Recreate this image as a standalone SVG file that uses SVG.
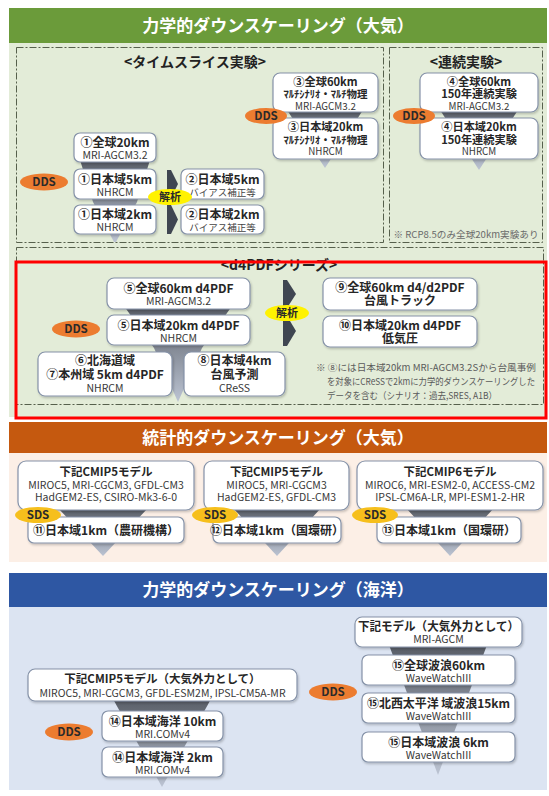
<svg xmlns="http://www.w3.org/2000/svg" width="549" height="796" viewBox="0 0 549 796">
<defs>
<style>
text{font-family:"Noto Sans CJK JP","Noto Sans",sans-serif;text-anchor:middle}
.hd{font-size:17px;font-weight:700;fill:#fff}
.st{font-size:14px;font-weight:700;fill:#222}
.box{fill:#fff;stroke:#8592a8;stroke-width:1.2;filter:url(#sh)}
.b{font-size:12px;font-weight:700;fill:#262626}
.b3{font-size:11.2px;font-weight:700;fill:#262626}
.s{font-size:10.5px;fill:#383838}
.s3{font-size:9.8px;fill:#383838}
.xs{font-size:9.5px;fill:#444}
.note{font-size:9.5px;fill:#5a5a5a;text-anchor:start}
.frame{fill:none;stroke:#56604c;stroke-width:1;stroke-dasharray:7 2 2 2}
.dds{fill:#ec7c30}
.sds{fill:#f6bf1c}
.ana{fill:#fff200}
.lt{font-size:11.5px;font-weight:700;fill:#2a2a2a}
.fun{fill:url(#fg)}
.chev{fill:#3f4651}
</style>
<linearGradient id="fg" x1="0" y1="0" x2="0" y2="1">
<stop offset="0" stop-color="#585d66"/>
<stop offset="1" stop-color="#bcc4d3"/>
</linearGradient>
<filter id="sh" x="-10%" y="-10%" width="120%" height="130%">
<feDropShadow dx="1" dy="1.5" stdDeviation="1" flood-color="#000" flood-opacity="0.22"/>
</filter>
</defs>

<!-- backgrounds -->
<rect x="9" y="8" width="538" height="35" fill="#6b9b3a"/>
<rect x="9" y="43" width="538" height="374" fill="#e3ecd8"/>
<text class="hd" x="278" y="31.5">力学的ダウンスケーリング（大気）</text>
<rect x="9" y="422" width="538" height="31" fill="#c5590f"/>
<rect x="9" y="453" width="538" height="109" fill="#fcefe6"/>
<text class="hd" x="278" y="443.5">統計的ダウンスケーリング（大気）</text>
<rect x="9" y="573" width="538" height="34" fill="#2e57a3"/>
<rect x="9" y="607" width="538" height="183" fill="#dce4f2"/>
<text class="hd" x="278" y="596">力学的ダウンスケーリング（海洋）</text>

<!-- frames -->
<rect class="frame" x="16.5" y="47.5" width="367" height="195"/>
<rect class="frame" x="389.5" y="47.5" width="153" height="195"/>
<rect class="frame" x="16.5" y="247.5" width="527" height="157"/>
<text class="st" x="195" y="67">&lt;タイムスライス実験&gt;</text>
<text class="st" x="466" y="67">&lt;連続実験&gt;</text>
<text class="st" x="279" y="270">&lt;d4PDFシリーズ&gt;</text>

<!-- connectors -->
<g id="connectors">
<polygon class="fun" points="80,160 150,160 137,202 116,242 114,242 93,202"/>
<polygon class="fun" points="287,110 363,110 325,168"/>
<polygon class="fun" points="440,110 518,110 479,170"/>
<polygon class="fun" points="124,306 232,306 202,348 178,402 154,348"/>
<polygon class="fun" points="58,508 148,508 103,556"/>
<polygon class="fun" points="233,508 321,508 277,556"/>
<polygon class="fun" points="406,508 494,508 450,556"/>
<polygon class="fun" points="389,645 487,645 438,775"/>
<polygon class="fun" points="113,699 211,699 162,787"/>
<polygon class="chev" points="167,170 171,170 178,184 171,198 167,198"/>
<polygon class="chev" points="167,205 171,205 178,219.5 171,234 167,234"/>
<polygon class="chev" points="283,280 287,280 296,294 287,308 283,308"/>
<polygon class="chev" points="283,316 287,316 296,331 287,346 283,346"/>
</g>

<!-- time slice nodes -->
<g id="n1a"><rect class="box" x="74" y="133" width="82" height="29" rx="6"/>
<text class="b" x="115" y="147">①全球20km</text><text class="s" x="115" y="159">MRI-AGCM3.2</text></g>
<g id="n1b"><rect class="box" x="74" y="169" width="82" height="30" rx="6"/>
<text class="b" x="115" y="184">①日本域5km</text><text class="s" x="115" y="196">NHRCM</text></g>
<g id="n1c"><rect class="box" x="74" y="205" width="82" height="29" rx="6"/>
<text class="b" x="115" y="219">①日本域2km</text><text class="s" x="115" y="231">NHRCM</text></g>
<g id="n2a"><rect class="box" x="181" y="169" width="83" height="30" rx="6"/>
<text class="b" x="222.5" y="184">②日本域5km</text><text class="xs" x="222.5" y="195.5">バイアス補正等</text></g>
<g id="n2b"><rect class="box" x="181" y="205" width="83" height="29" rx="6"/>
<text class="b" x="222.5" y="219">②日本域2km</text><text class="xs" x="222.5" y="230.5">バイアス補正等</text></g>
<g id="n3a"><rect class="box" x="273" y="73" width="105" height="39" rx="7"/>
<text class="b3" x="325.5" y="85.5">③全球60km</text><text class="b3" x="325.5" y="98" style="font-size:10.5px">ﾏﾙﾁｼﾅﾘｵ・ﾏﾙﾁ物理</text><text class="s3" x="325.5" y="109.5">MRI-AGCM3.2</text></g>
<g id="n3b"><rect class="box" x="273" y="118" width="105" height="41" rx="7"/>
<text class="b3" x="325.5" y="131">③日本域20km</text><text class="b3" x="325.5" y="143.5" style="font-size:10.5px">ﾏﾙﾁｼﾅﾘｵ・ﾏﾙﾁ物理</text><text class="s3" x="325.5" y="155">NHRCM</text></g>
<g id="n4a"><rect class="box" x="420" y="73" width="118" height="39" rx="7"/>
<text class="b3" x="479" y="85.5">④全球60km</text><text class="b3" x="479" y="98">150年連続実験</text><text class="s3" x="479" y="109.5">MRI-AGCM3.2</text></g>
<g id="n4b"><rect class="box" x="420" y="118" width="118" height="41" rx="7"/>
<text class="b3" x="479" y="131">④日本域20km</text><text class="b3" x="479" y="143.5">150年連続実験</text><text class="s3" x="479" y="155">NHRCM</text></g>
<text class="xs" x="466" y="238" style="fill:#6a6a6a" textLength="145" lengthAdjust="spacingAndGlyphs">※ RCP8.5のみ全球20km実験あり</text>

<!-- d4PDF nodes -->
<g id="n5a"><rect class="box" x="107" y="278" width="143" height="31" rx="7"/>
<text class="b" x="178.5" y="293">⑤全球60km d4PDF</text><text class="s" x="178.5" y="305">MRI-AGCM3.2</text></g>
<g id="n5b"><rect class="box" x="107" y="315" width="143" height="30" rx="7"/>
<text class="b" x="178.5" y="330">⑤日本域20km d4PDF</text><text class="s" x="178.5" y="342">NHRCM</text></g>
<g id="n67"><rect class="box" x="38" y="352" width="134" height="44" rx="7"/>
<text class="b" x="105" y="365">⑥北海道域</text><text class="b" x="105" y="379">⑦本州域 5km d4PDF</text><text class="s" x="105" y="391.5">NHRCM</text></g>
<g id="n8"><rect class="box" x="184" y="352" width="101" height="44" rx="7"/>
<text class="b" x="234.5" y="365">⑧日本域4km</text><text class="b" x="234.5" y="379">台風予測</text><text class="s" x="234.5" y="391.5">CReSS</text></g>
<g id="n9"><rect class="box" x="323" y="278" width="154" height="32" rx="7"/>
<text class="b" x="400" y="291.5">⑨全球60km d4/d2PDF</text><text class="b" x="400" y="305">台風トラック</text></g>
<g id="n10"><rect class="box" x="323" y="316" width="154" height="31" rx="7"/>
<text class="b" x="400" y="329.5">⑩日本域20km d4PDF</text><text class="b" x="400" y="343">低気圧</text></g>
<text class="note" x="316" y="371" textLength="220" lengthAdjust="spacingAndGlyphs">※ ⑧には日本域20km MRI-AGCM3.2Sから台風事例</text>
<text class="note" x="327" y="385" textLength="208" lengthAdjust="spacingAndGlyphs">を対象にCReSSで2kmに力学的ダウンスケーリングした</text>
<text class="note" x="327" y="398.5" textLength="170" lengthAdjust="spacingAndGlyphs">データを含む（シナリオ：過去,SRES, A1B）</text>

<!-- statistical nodes -->
<g id="m1"><rect class="box" x="18" y="461" width="176" height="49" rx="8"/>
<text class="b" x="106" y="475.5" style="font-size:11.5px">下記CMIP5モデル</text><text class="s" x="106" y="488.5">MIROC5, MRI-CGCM3, GFDL-CM3</text><text class="s" x="106" y="500.5">HadGEM2-ES, CSIRO-Mk3-6-0</text></g>
<g id="n11"><rect class="box" x="28" y="517" width="156" height="26" rx="6"/>
<text class="b" x="106" y="534.5">⑪日本域1km（農研機構）</text></g>
<g id="m2"><rect class="box" x="204" y="461" width="145" height="49" rx="8"/>
<text class="b" x="276.5" y="475.5" style="font-size:11.5px">下記CMIP5モデル</text><text class="s" x="276.5" y="488.5">MIROC5, MRI-CGCM3</text><text class="s" x="276.5" y="500.5">HadGEM2-ES, GFDL-CM3</text></g>
<g id="n12"><rect class="box" x="213" y="517" width="128" height="26" rx="6"/>
<text class="b" x="277" y="534.5">⑫日本域1km（国環研）</text></g>
<g id="m3"><rect class="box" x="357" y="461" width="186" height="49" rx="8"/>
<text class="b" x="450" y="475.5" style="font-size:11.5px">下記CMIP6モデル</text><text class="s" x="450" y="488.5">MIROC6, MRI-ESM2-0, ACCESS-CM2</text><text class="s" x="450" y="500.5">IPSL-CM6A-LR, MPI-ESM1-2-HR</text></g>
<g id="n13"><rect class="box" x="377" y="517" width="144" height="26" rx="6"/>
<text class="b" x="449" y="534.5">⑬日本域1km（国環研）</text></g>

<!-- ocean nodes -->
<g id="o1"><rect class="box" x="28" y="669" width="269" height="32" rx="7"/>
<text class="b" x="162.5" y="683" style="font-size:11.5px">下記CMIP5モデル（大気外力として）</text><text class="s" x="162.5" y="697">MIROC5, MRI-CGCM3, GFDL-ESM2M, IPSL-CM5A-MR</text></g>
<g id="n14a"><rect class="box" x="102" y="711" width="121" height="30" rx="6"/>
<text class="b" x="162.5" y="725.5">⑭日本域海洋 10km</text><text class="s" x="162.5" y="737.5">MRI.COMv4</text></g>
<g id="n14b"><rect class="box" x="102" y="747" width="121" height="30" rx="6"/>
<text class="b" x="162.5" y="761.5">⑭日本域海洋 2km</text><text class="s" x="162.5" y="773.5">MRI.COMv4</text></g>
<g id="o2"><rect class="box" x="355" y="617" width="167" height="30" rx="7"/>
<text class="b" x="438.5" y="630.5" textLength="161" lengthAdjust="spacingAndGlyphs">下記モデル（大気外力として）</text><text class="s" x="438.5" y="643">MRI-AGCM</text></g>
<g id="n15a"><rect class="box" x="362" y="655" width="153" height="30" rx="6"/>
<text class="b" x="438.5" y="669.5">⑮全球波浪60km</text><text class="s" x="438.5" y="681.5">WaveWatchIII</text></g>
<g id="n15b"><rect class="box" x="362" y="693" width="153" height="30" rx="6"/>
<text class="b" x="438.5" y="707.5" textLength="143" lengthAdjust="spacingAndGlyphs">⑮北西太平洋 域波浪15km</text><text class="s" x="438.5" y="719.5">WaveWatchIII</text></g>
<g id="n15c"><rect class="box" x="362" y="732" width="153" height="30" rx="6"/>
<text class="b" x="438.5" y="746.5">⑮日本域波浪 6km</text><text class="s" x="438.5" y="758.5">WaveWatchIII</text></g>

<!-- method labels -->
<g id="labels">
<ellipse class="dds" cx="44" cy="182" rx="24" ry="8.5"/><text class="lt" x="44" y="186">DDS</text>
<ellipse class="dds" cx="266" cy="116" rx="21" ry="8"/><text class="lt" x="266" y="120">DDS</text>
<ellipse class="dds" cx="414" cy="116" rx="21" ry="8"/><text class="lt" x="414" y="120">DDS</text>
<ellipse class="dds" cx="76" cy="329" rx="24" ry="8.5"/><text class="lt" x="76" y="333">DDS</text>
<ellipse class="dds" cx="69" cy="732" rx="24" ry="8.5"/><text class="lt" x="69" y="736">DDS</text>
<ellipse class="dds" cx="333" cy="692" rx="24" ry="8.5"/><text class="lt" x="333" y="696">DDS</text>
<ellipse class="ana" cx="170" cy="197" rx="22" ry="8"/><text class="lt" x="170" y="201" style="font-size:11px">解析</text>
<ellipse class="ana" cx="287" cy="313" rx="22" ry="8"/><text class="lt" x="287" y="317" style="font-size:11px">解析</text>
<ellipse class="sds" cx="38" cy="515" rx="23" ry="8"/><text class="lt" x="38" y="519">SDS</text>
<ellipse class="sds" cx="215" cy="515" rx="23" ry="8"/><text class="lt" x="215" y="519">SDS</text>
<ellipse class="sds" cx="375" cy="515" rx="23" ry="8"/><text class="lt" x="375" y="519">SDS</text>
</g>

<rect x="16" y="262" width="530" height="156" fill="none" stroke="#ff0000" stroke-width="3"/>
</svg>
